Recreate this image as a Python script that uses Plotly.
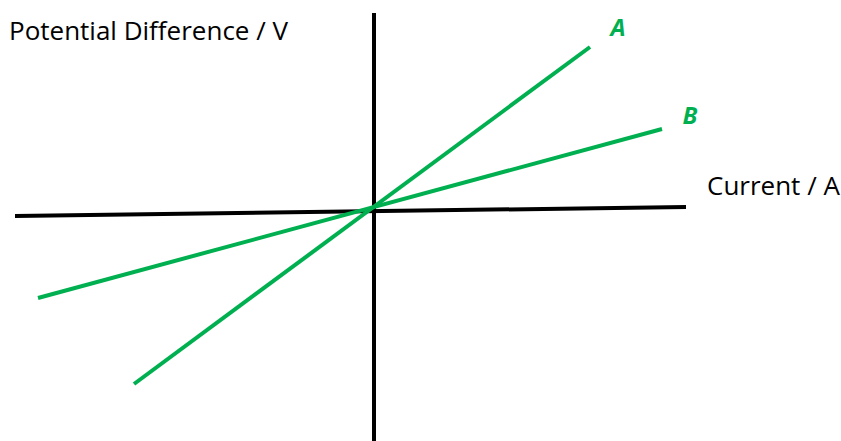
import plotly.graph_objects as go

# coordinates relative to the crossing point of the two axes (y up)
axis_x_ends = [-358, 313]
axis_x_vals = [-7, 2]
axis_y_pos = [1, 1]
axis_y_ends = [196, -235]

line_a_x = [-239, 217]
line_a_y = [-175, 162]
line_b_x = [-335, 289]
line_b_y = [-89, 80]

label_names = ["A", "B"]
label_x = [245, 317]
label_y = [179, 91]

GREEN = "#00B050"
FONT = "Open Sans"

fig = go.Figure()
fig.add_trace(go.Scatter(x=axis_x_ends, y=axis_x_vals, mode="lines",
                         line=dict(color="black", width=4)))
fig.add_trace(go.Scatter(x=axis_y_pos, y=axis_y_ends, mode="lines",
                         line=dict(color="black", width=4)))
fig.add_trace(go.Scatter(x=line_a_x, y=line_a_y, mode="lines",
                         line=dict(color=GREEN, width=4)))
fig.add_trace(go.Scatter(x=line_b_x, y=line_b_y, mode="lines",
                         line=dict(color=GREEN, width=4)))
fig.add_trace(go.Scatter(x=label_x, y=label_y, mode="text",
                         text=[f"<b><i>{t}</i></b>" for t in label_names],
                         textfont=dict(family=FONT, size=24, color=GREEN)))

fig.add_annotation(x=-366, y=179, text="Potential Difference / V", showarrow=False,
                   xanchor="left", yanchor="middle",
                   font=dict(family=FONT, size=26, color="black"))
fig.add_annotation(x=332, y=24, text="Current / A", showarrow=False,
                   xanchor="left", yanchor="middle",
                   font=dict(family=FONT, size=26, color="black"))

fig.update_layout(
    width=841, height=441,
    margin=dict(l=0, r=0, t=0, b=0),
    paper_bgcolor="white", plot_bgcolor="white",
    showlegend=False,
    xaxis=dict(range=[-373, 468], visible=False, fixedrange=True),
    yaxis=dict(range=[-232, 209], visible=False, fixedrange=True),
)
# 페이지 기본 여백 제거
fig.write_html("out.html", config={"displayModeBar": False},
               post_script="document.body.style.margin='0';document.body.style.overflow='hidden';")
